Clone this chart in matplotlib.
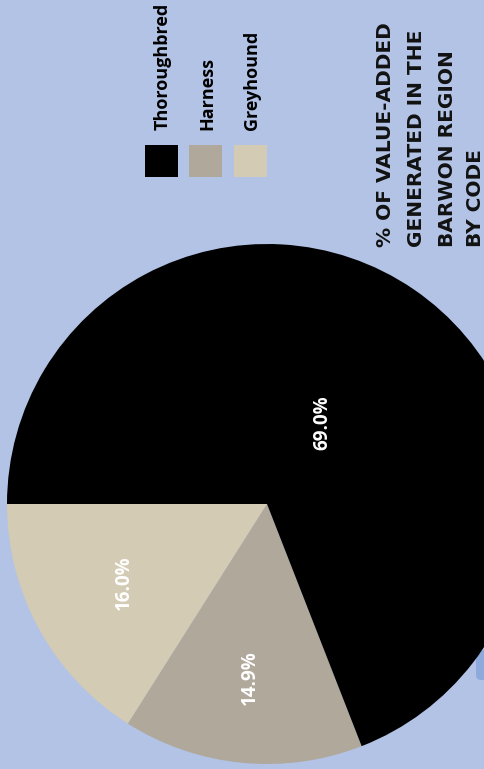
import matplotlib
matplotlib.use("Agg")
import matplotlib.pyplot as plt
import numpy as np
from matplotlib.patches import FancyBboxPatch, Rectangle

categories = ["Greyhound", "Harness", "Thoroughbred"]
values = [16.0, 14.9, 69.0]
colors = ["#d3cbb3", "#b0a89b", "#000000"]
legend_order = ["Thoroughbred", "Harness", "Greyhound"]
title_lines = ["% OF VALUE-ADDED", "GENERATED IN THE", "BARWON REGION", "BY CODE"]

BG = "#b3c3e5"
W, H = 485, 769
fig = plt.figure(figsize=(W / 100, H / 100), dpi=100, facecolor=BG)
ax = fig.add_axes([0, 0, 1, 1])
ax.set_facecolor(BG)

# decorative shape at bottom-right
ax.add_patch(FancyBboxPatch((476, 769 - 680), 20, 30, boxstyle="round,pad=0,rounding_size=5",
                            facecolor="#8eaadc", edgecolor="none", zorder=0))

cx, cy, r = 267, H - 504, 260
wedges, _ = ax.pie(values, colors=colors, startangle=180, counterclock=True,
                   center=(cx, cy), radius=r, frame=True,
                   wedgeprops=dict(linewidth=0))
ax.set_xlim(0, W)
ax.set_ylim(0, H)
ax.set_aspect("equal")
ax.axis("off")

dist = [0.63, 0.67, 0.38]
for w, v, d in zip(wedges, values, dist):
    mid = np.deg2rad((w.theta1 + w.theta2) / 2)
    ax.text(cx + d * r * np.cos(mid), cy + d * r * np.sin(mid), f"{v:.1f}%",
            rotation=90, ha="center", va="center", color="white",
            fontsize=13.5, fontweight="bold", family=["Open Sans", "DejaVu Sans"], zorder=5)

# legend
leg_x = [145, 189, 234]
for name, x in zip(legend_order, leg_x):
    c = colors[categories.index(name)]
    ax.add_patch(Rectangle((x, H - 177), 33, 32, facecolor=c, edgecolor="none", zorder=3))
    ax.text(x + 18, H - 130, name, rotation=90, rotation_mode="anchor",
            ha="left", va="center", fontsize=13, fontweight="bold",
            family=["Open Sans", "DejaVu Sans"], color="#000000")

# title
title_x = [386, 417, 448, 476]
for line, x in zip(title_lines, title_x):
    ax.text(x, H - 247, line, rotation=90, rotation_mode="anchor",
            ha="left", va="center", fontsize=14.5, fontweight="bold",
            family=["DejaVu Sans"], color="#111111")

fig.savefig("out.png", dpi=100, facecolor=BG)
